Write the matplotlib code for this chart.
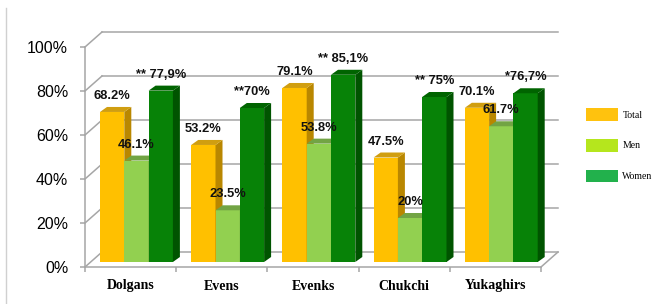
import matplotlib
matplotlib.use('Agg')
import matplotlib.pyplot as plt
from matplotlib.patches import Polygon, Patch
from matplotlib.lines import Line2D

# data
groups = ['Dolgans', 'Evens', 'Evenks', 'Chukchi', 'Yukaghirs']
series_names = ['Total', 'Men', 'Women']
total = [68.2, 53.2, 79.1, 47.5, 70.1]
men = [46.1, 23.5, 53.8, 20.0, 61.7]
women = [77.9, 70.0, 85.1, 75.0, 76.7]
total_labels = ['68.2%', '53.2%', '79.1%', '47.5%', '70.1%']
men_labels = ['46.1%', '23.5%', '53.8%', '20%', '61.7%']
women_labels = ['** 77,9%', '**70%', '** 85,1%', '** 75%', '*76,7%']
yticks = [0, 20, 40, 60, 80, 100]

# face colours (front, side, top) and legend colours
faces = [('#FFC000', '#B98700', '#D09E10'),
         ('#92D050', '#6E9E3E', '#72A444'),
         ('#078207', '#005400', '#006400')]
legend_colors = ['#FFC20E', '#B5E61D', '#22B14C']

W, H = 653, 304
fig = plt.figure(figsize=(W / 100, H / 100), dpi=100)
# front plane: x 85..541 px, y 267 (0%) .. 47 (100%)
ax = fig.add_axes([85 / W, (H - 267) / H, 456 / W, 220 / H])
ax.set_xlim(-0.5, 4.5)
ax.set_ylim(0, 100)

px_x = 5 / 456.0
px_y = 100 / 220.0
back_dx, back_dy = 17 * px_x, 15 * px_y      # back wall offset
bar_dx, bar_dy = 7 * px_x, 5 * px_y          # bar depth
base = 5 * px_y                              # bar bottom above floor front
bw = 24.3 * px_x                             # bar width
first_left = -30.6 * px_x                    # left of first bar vs category center

grid_c = '#a6a6a6'

# back wall gridlines plus left wall diagonals
for v in yticks:
    ax.plot([-0.5 + back_dx, 4.5 + back_dx], [v + back_dy, v + back_dy],
            color=grid_c, lw=1.1, clip_on=False, zorder=1)
    ax.plot([-0.5, -0.5 + back_dx], [v, v + back_dy],
            color=grid_c, lw=1.1, clip_on=False, zorder=1)
# floor right edge
ax.plot([4.5, 4.5 + back_dx], [0, back_dy], color=grid_c, lw=1.1, clip_on=False, zorder=1)

# bars drawn left to right so later ones cover earlier side faces
all_vals = [total, men, women]
all_labels = [total_labels, men_labels, women_labels]
for g in range(len(groups)):
    for s in range(3):
        v = all_vals[s][g]
        left = g + first_left + s * bw
        front, side, top = faces[s]
        ax.bar(left, v, width=bw, bottom=base, align='edge', color=front,
               edgecolor='none', zorder=3 + g * 3 + s, clip_on=False)
        yt = base + v
        ax.add_patch(Polygon([(left + bw, base), (left + bw + bar_dx, base + bar_dy),
                              (left + bw + bar_dx, yt + bar_dy), (left + bw, yt)],
                             closed=True, facecolor=side, edgecolor='none',
                             zorder=3 + g * 3 + s, clip_on=False))
        ax.add_patch(Polygon([(left, yt), (left + bw, yt),
                              (left + bw + bar_dx, yt + bar_dy), (left + bar_dx, yt + bar_dy)],
                             closed=True, facecolor=top, edgecolor='none',
                             zorder=3 + g * 3 + s, clip_on=False))
        ax.text(left + bw / 2, v + 9.5, all_labels[s][g], ha='center', va='center',
                fontsize=9.3, fontweight='bold', family='Liberation Sans',
                color='#111111', zorder=40, clip_on=False)

# axes look
for sp in ['top', 'right']:
    ax.spines[sp].set_visible(False)
ax.spines['left'].set_color(grid_c)
ax.spines['bottom'].set_color(grid_c)
ax.spines['left'].set_linewidth(1.1)
ax.spines['bottom'].set_linewidth(1.1)
ax.spines['left'].set_zorder(0)

ax.set_yticks(yticks)
ax.set_yticklabels([f'{v}%' for v in yticks], family='Liberation Sans', fontsize=11.5)
ax.tick_params(axis='y', length=3.6, width=1.1, color=grid_c, pad=8.5)

ax.set_xticks(range(len(groups)))
ax.set_xticklabels(groups, family='Liberation Serif', fontweight='bold', fontsize=10)
ax.set_xticks([i - 0.5 for i in range(len(groups) + 1)], minor=True)
ax.tick_params(axis='x', which='major', length=0, pad=9)
ax.tick_params(axis='x', which='minor', length=3.6, width=1.1, color=grid_c)

# legend
handles = [Patch(facecolor=c, edgecolor='none') for c in legend_colors]
fig.legend(handles, series_names, loc='upper left',
           bbox_to_anchor=(586 / W, (H - 108) / H), frameon=False,
           prop={'family': 'Liberation Serif', 'size': 7},
           handlelength=3.3, handleheight=1.65, handletextpad=0.45,
           labelspacing=1.85, borderpad=0, borderaxespad=0)

# faint chart border on the left
fig.add_artist(Line2D([6 / W, 6 / W], [0, (H - 8) / H], color='#d0d0d0', lw=1))

fig.savefig('out.png', dpi=100)
